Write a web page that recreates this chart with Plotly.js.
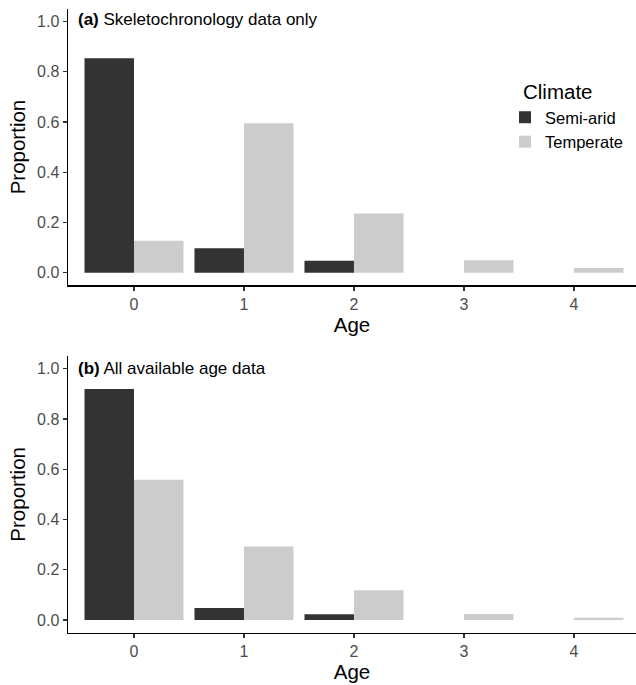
<!DOCTYPE html>
<html><head><meta charset="utf-8">
<script src="https://cdn.plot.ly/plotly-3.0.1.min.js"></script>
<style>body{margin:0;padding:0;background:#fff}#chart{width:636px;height:685px}</style>
</head><body><div id="chart"></div>
<script>
const ages = [0, 1, 2, 3, 4];
const semiAridA = [0.853, 0.097, 0.048, 0, 0];
const temperateA = [0.127, 0.595, 0.236, 0.050, 0.019];
const semiAridB = [0.919, 0.048, 0.023, 0, 0];
const temperateB = [0.558, 0.293, 0.118, 0.024, 0.009];
const yTicks = [0, 0.2, 0.4, 0.6, 0.8, 1.0];
const yTickText = ['0.0', '0.2', '0.4', '0.6', '0.8', '1.0'];
const panelTitles = ['<b>(a)</b> Skeletochronology data only', '<b>(b)</b> All available age data'];
const legendTitle = 'Climate';

const cSemi = '#333333', cTemp = '#cccccc';
const traces = [
  {type:'bar', x:ages, y:semiAridA, name:'Semi-arid', marker:{color:cSemi, line:{width:0}}, xaxis:'x', yaxis:'y', legendgroup:'c'},
  {type:'bar', x:ages, y:temperateA, name:'Temperate', marker:{color:cTemp, line:{width:0}}, xaxis:'x', yaxis:'y', legendgroup:'c'},
  {type:'bar', x:ages, y:semiAridB, name:'Semi-arid', marker:{color:cSemi, line:{width:0}}, xaxis:'x2', yaxis:'y2', showlegend:false, legendgroup:'c'},
  {type:'bar', x:ages, y:temperateB, name:'Temperate', marker:{color:cTemp, line:{width:0}}, xaxis:'x2', yaxis:'y2', showlegend:false, legendgroup:'c'}
];
const H = 685, W = 568;
function xax(anchor){
  return {anchor:anchor, range:[-0.6, 4.564], tickvals:ages, ticktext:ages.map(String), showgrid:false, zeroline:false,
    showline:true, linecolor:'#000', linewidth:1.5, ticks:'outside', ticklen:4, tickcolor:'#333', tickwidth:1.2,
    tickfont:{size:16, color:'#4d4d4d'}, title:{text:'Age', font:{size:20.5, color:'#000'}, standoff:2}, fixedrange:true};
}
function yax(anchor, dom){
  return {anchor:anchor, domain:dom, range:[-0.05, 1.05], tickvals:yTicks, ticktext:yTickText, showgrid:false, zeroline:false,
    showline:true, linecolor:'#000', linewidth:1.5, ticks:'outside', ticklen:4, tickcolor:'#333', tickwidth:1.2,
    tickfont:{size:16, color:'#4d4d4d'}, title:{text:'Proportion', font:{size:20.5, color:'#000'}, standoff:6}};
}
const layout = {
  width:636, height:685, margin:{l:68, r:0, t:0, b:0},
  paper_bgcolor:'#fff', plot_bgcolor:'#fff',
  font:{family:'Liberation Sans, Arial, sans-serif'},
  barmode:'group', bargap:0.1, bargroupgap:0,
  xaxis:xax('y'), yaxis:yax('x', [1-285.3/H, 1-8.8/H]),
  xaxis2:xax('y2'), yaxis2:yax('x2', [1-632.6/H, 1-356.1/H]),
  legend:{x:(505-68)/W, y:1-100/H, xanchor:'left', yanchor:'top', bgcolor:'rgba(0,0,0,0)', traceorder:'grouped',
    font:{size:16.5, color:'#000'}, itemwidth:30, tracegroupgap:0},
  annotations:[
    {xref:'paper', yref:'paper', x:(76-68)/W, y:1-20/H, xanchor:'left', yanchor:'middle', showarrow:false, text:panelTitles[0], font:{size:17, color:'#000'}},
    {xref:'paper', yref:'paper', x:(76-68)/W, y:1-368/H, xanchor:'left', yanchor:'middle', showarrow:false, text:panelTitles[1], font:{size:17, color:'#000'}},
    {xref:'paper', yref:'paper', x:(521-68)/W, y:1-91/H, xanchor:'left', yanchor:'middle', showarrow:false, text:legendTitle, font:{size:20.5, color:'#000'}}
  ]
};
Plotly.newPlot('chart', traces, layout, {displayModeBar:false, staticPlot:true});
</script></body></html>
